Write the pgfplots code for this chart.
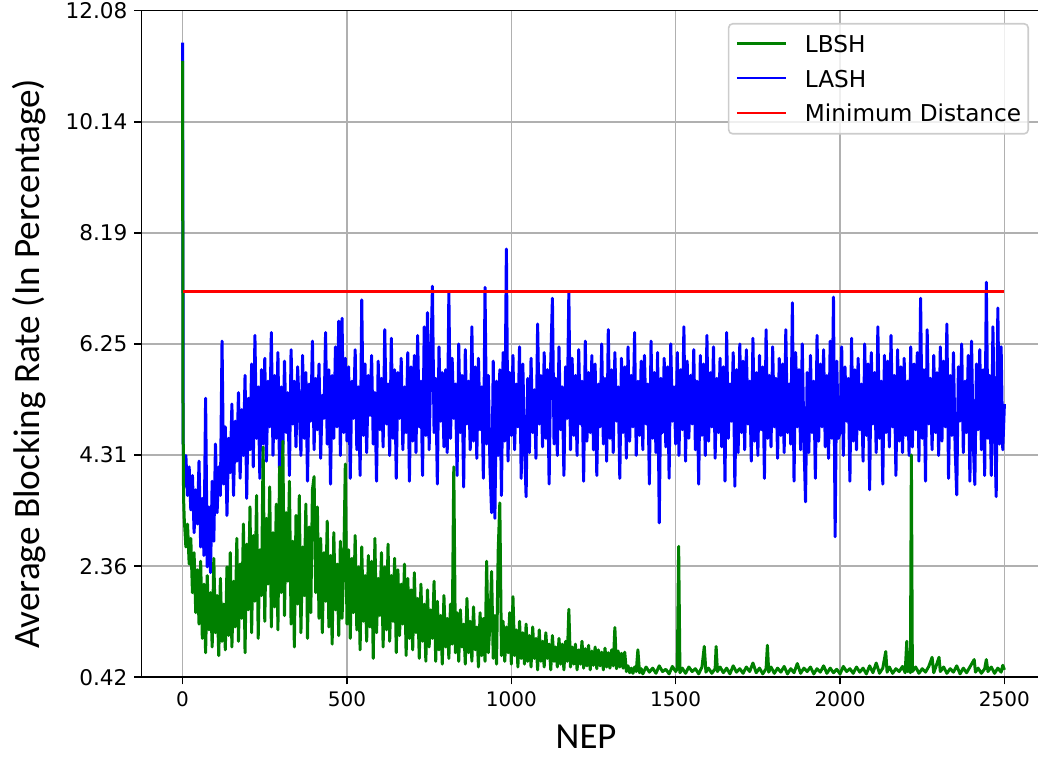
\documentclass[border=0pt]{standalone}
\usepackage{fontspec}
\setmainfont{DejaVu Sans}
\newfontfamily\carlito{Carlito}
\usepackage{pgfplots}
\pgfplotsset{compat=1.18}
\definecolor{mplgreen}{HTML}{008000}
\definecolor{mplblue}{HTML}{0000FF}
\definecolor{mplred}{HTML}{FF0000}
\definecolor{gridgray}{HTML}{B0B0B0}
\begin{document}
\begin{tikzpicture}
\begin{axis}[
  at={(0,0)}, anchor=south west,
  scale only axis, width=452pt, height=333.3pt,
  xmin=-125, xmax=2625, ymin=0.42, ymax=12.08,
  xtick={0,500,1000,1500,2000,2500},
  xticklabels={0,500,1000,1500,2000,2500},
  ytick={0.42,2.363,4.307,6.25,8.193,10.137,12.08},
  yticklabels={0.42,2.36,4.31,6.25,8.19,10.14,12.08},
  tick pos=left, tick align=outside, major tick length=3.5pt,
  tick style={black, line width=0.8pt},
  grid=major, major grid style={gridgray, line width=0.8pt},
  axis line style={black, line width=0.8pt},
  /pgf/number format/assume math mode=true,
  xticklabel style={font=\fontsize{10}{12}\selectfont},
  yticklabel style={font=\fontsize{10.8}{13}\selectfont},
  xlabel={NEP},
  ylabel={Average Blocking Rate (In Percentage)},
  xlabel style={font=\carlito\fontsize{18.4}{22}\selectfont, at={(axis description cs:0.4918,-0.0895)}, anchor=center},
  ylabel style={font=\carlito\fontsize{18.6}{23}\selectfont, at={(axis description cs:-0.124,0.470)}, anchor=center},
  legend cell align=left,
  legend image code/.code={\draw[#1, line width=1.1pt] (0pt,0.3pt) -- (24.5pt,0.3pt);},
  legend style={at={(axis description cs:1,1)}, anchor=north east, xshift=-8.25pt, yshift=-6.15pt,
    draw=black!20, line width=0.8pt, rounded corners=2pt, fill=white, fill opacity=0.8, text opacity=1,
    font=\fontsize{11.6}{14}\selectfont, inner xsep=3.5pt, inner ysep=5.9pt,
    row sep=8.85pt, column sep=9pt,
    nodes={inner sep=0pt, text height=8.5pt, text depth=0pt}},
]
\addlegendimage{draw=mplgreen}\addlegendentry{LBSH}
\addlegendimage{draw=mplblue}\addlegendentry{LASH}
\addlegendimage{draw=mplred}\addlegendentry{Minimum Distance}

% LASH
\addplot[color=mplblue, line width=1.5pt, line join=round, forget plot] coordinates {
(0,11.52)(2,4.50)(5,3.75)(10,4.30)(15,3.60)(20,4.10)(25,3.35)(30,3.95)(35,2.95)(40,3.70)(45,3.10)
(50,4.20)(55,2.70)(60,3.55)(65,2.55)(70,5.30)(75,2.35)(80,3.40)(85,2.25)(90,3.85)(95,2.80)
(100,4.50)(105,3.30)(110,4.10)(115,3.60)(120,6.30)(125,3.80)(130,4.80)(135,3.25)(140,4.60)(145,4.00)
(150,5.20)(155,3.60)(160,4.90)(165,4.20)(170,5.40)(175,3.90)(180,5.10)(185,4.30)(190,5.70)(195,3.55)
(200,5.30)(205,4.40)(210,5.90)(215,4.10)(220,6.40)(225,4.60)(230,5.50)(235,3.90)(240,5.80)(245,4.50)
(250,6.00)(255,4.20)(260,5.60)(265,4.80)(270,6.45)(275,4.30)(280,5.70)(285,4.60)(290,6.10)(295,4.00)
(300,5.50)(305,4.35)(310,5.95)(315,4.70)(320,5.40)(325,3.95)(330,6.15)(335,4.85)(340,5.60)(345,4.45)
(350,5.85)(355,5.10)(360,4.30)(365,6.05)(370,4.60)(375,5.75)(380,3.85)(385,5.55)(390,4.90)(395,6.30)
(400,4.40)(405,5.65)(410,4.75)(415,5.90)(420,4.25)(425,5.35)(430,4.95)(435,6.45)(440,4.50)(445,5.80)
(450,3.80)(455,5.70)(460,4.60)(465,6.20)(470,4.80)(475,6.65)(480,4.30)(485,6.70)(490,4.70)(495,6.00)
(500,4.55)(505,5.85)(510,3.90)(515,5.60)(520,4.95)(525,6.15)(530,4.40)(535,5.50)(540,3.95)(545,7.02)
(550,4.65)(555,5.90)(560,4.35)(565,5.70)(570,5.00)(575,6.05)(580,4.50)(585,5.40)(590,3.85)(595,5.95)
(600,4.75)(605,5.65)(610,4.45)(615,6.50)(620,4.85)(625,5.55)(630,4.30)(635,6.35)(640,4.60)(645,5.80)
(650,3.90)(655,5.75)(660,4.95)(665,6.00)(670,4.40)(675,5.50)(680,4.70)(685,6.10)(690,3.85)(695,5.85)
(700,4.55)(705,6.05)(710,4.35)(715,6.40)(720,4.80)(725,5.60)(730,3.95)(735,6.55)(740,4.65)(745,6.80)
(750,4.40)(755,5.90)(760,7.26)(765,4.70)(770,5.65)(775,3.80)(780,6.20)(785,4.90)(790,5.75)(795,4.45)
(800,5.80)(805,4.35)(810,7.14)(815,4.60)(820,6.00)(825,4.95)(830,5.55)(835,3.95)(840,6.25)(845,4.70)
(850,5.70)(855,3.75)(860,6.15)(865,4.85)(870,5.60)(875,4.40)(880,6.55)(885,4.55)(890,5.85)(895,4.25)
(900,6.00)(905,4.75)(910,5.50)(915,3.90)(920,7.24)(925,4.50)(930,5.70)(935,4.10)(940,3.30)(945,5.95)
(950,3.20)(955,5.60)(960,4.30)(965,5.80)(970,3.60)(975,6.10)(980,4.55)(985,7.91)(990,4.20)(995,5.75)
(1000,4.65)(1005,6.05)(1010,4.40)(1015,5.55)(1020,4.80)(1025,6.20)(1030,3.90)(1035,5.90)(1040,4.50)(1045,3.58)
(1050,5.65)(1055,4.35)(1060,6.00)(1065,4.70)(1070,5.45)(1075,4.25)(1080,6.60)(1085,4.85)(1090,5.70)(1095,4.45)
(1100,6.10)(1105,4.60)(1110,5.80)(1115,3.80)(1120,5.95)(1125,7.05)(1130,4.50)(1135,5.65)(1140,4.30)(1145,6.20)
(1150,4.75)(1155,5.50)(1160,3.95)(1165,5.85)(1170,4.95)(1175,7.16)(1180,4.40)(1185,6.00)(1190,4.65)(1195,5.70)
(1200,4.30)(1205,6.15)(1210,4.85)(1215,5.60)(1220,3.85)(1225,6.30)(1230,4.55)(1235,5.75)(1240,4.70)(1245,6.05)
(1250,4.40)(1255,5.90)(1260,3.95)(1265,5.55)(1270,4.80)(1275,6.25)(1280,4.50)(1285,5.65)(1290,4.20)(1295,6.50)
(1300,4.60)(1305,5.80)(1310,4.35)(1315,6.10)(1320,4.90)(1325,5.50)(1330,3.90)(1335,6.00)(1340,4.70)(1345,5.85)
(1350,4.25)(1355,6.20)(1360,4.55)(1365,5.70)(1370,4.80)(1375,6.45)(1380,4.30)(1385,5.60)(1390,4.65)(1395,5.95)
(1400,4.40)(1405,6.05)(1410,4.85)(1415,5.55)(1420,3.80)(1425,6.30)(1430,4.60)(1435,5.75)(1440,4.35)(1445,6.10)
(1450,3.12)(1455,5.65)(1460,4.70)(1465,6.00)(1470,4.45)(1475,5.85)(1480,3.90)(1485,6.25)(1490,4.90)(1495,5.50)
(1500,4.50)(1505,6.10)(1510,4.30)(1515,5.80)(1520,4.75)(1525,6.55)(1530,4.20)(1535,5.95)(1540,4.60)(1545,5.70)
(1550,4.85)(1555,6.15)(1560,4.40)(1565,5.60)(1570,3.80)(1575,6.05)(1580,4.65)(1585,5.90)(1590,4.30)(1595,6.40)
(1600,4.55)(1605,5.75)(1610,4.80)(1615,6.20)(1620,4.25)(1625,5.65)(1630,4.70)(1635,6.00)(1640,4.45)(1645,5.85)
(1650,3.85)(1655,6.45)(1660,4.60)(1665,5.55)(1670,4.90)(1675,6.10)(1680,3.76)(1685,5.80)(1690,4.35)(1695,6.25)
(1700,4.70)(1705,5.95)(1710,4.40)(1715,6.15)(1720,4.85)(1725,5.60)(1730,4.20)(1735,6.35)(1740,4.55)(1745,5.75)
(1750,4.30)(1755,6.05)(1760,4.75)(1765,5.85)(1770,3.90)(1775,6.50)(1780,4.60)(1785,5.70)(1790,4.45)(1795,6.20)
(1800,4.80)(1805,5.65)(1810,4.25)(1815,6.00)(1820,4.65)(1825,5.90)(1830,4.35)(1835,6.50)(1840,4.70)(1845,5.55)
(1850,4.50)(1855,6.97)(1860,3.85)(1865,6.10)(1870,4.80)(1875,5.80)(1880,4.40)(1885,6.25)(1890,4.60)(1895,3.49)
(1900,5.75)(1905,4.35)(1910,6.05)(1915,4.70)(1920,5.60)(1925,3.90)(1930,6.40)(1935,4.55)(1940,5.90)(1945,4.80)
(1950,6.15)(1955,4.45)(1960,5.70)(1965,4.25)(1970,6.30)(1975,4.60)(1980,7.07)(1985,2.88)(1990,5.95)(1995,4.60)
(2000,4.70)(2005,6.20)(2010,4.30)(2015,5.85)(2020,4.90)(2025,5.65)(2030,3.85)(2035,6.35)(2040,4.55)(2045,5.80)
(2050,4.40)(2055,6.00)(2060,4.75)(2065,5.55)(2070,4.20)(2075,6.25)(2080,4.65)(2085,5.90)(2090,3.70)(2095,6.10)
(2100,4.85)(2105,5.75)(2110,4.35)(2115,6.55)(2120,4.60)(2125,5.60)(2130,3.80)(2135,6.05)(2140,4.70)(2145,5.95)
(2150,4.45)(2155,6.40)(2160,4.80)(2165,5.70)(2170,3.95)(2175,6.15)(2180,4.55)(2185,5.85)(2190,4.35)(2195,6.00)
(2200,4.65)(2205,5.60)(2210,4.30)(2215,6.20)(2220,4.45)(2225,5.90)(2230,4.75)(2235,6.10)(2240,4.20)(2245,7.05)
(2250,4.60)(2255,5.80)(2260,3.85)(2265,6.50)(2270,4.85)(2275,5.65)(2280,4.40)(2285,6.05)(2290,4.70)(2295,5.75)
(2300,4.30)(2305,6.20)(2310,4.55)(2315,5.95)(2320,4.80)(2325,6.60)(2330,3.90)(2335,5.70)(2340,4.65)(2345,6.10)
(2350,4.45)(2355,3.61)(2360,5.85)(2365,4.90)(2370,6.25)(2375,4.35)(2380,5.60)(2385,4.70)(2390,6.05)(2395,3.85)
(2400,6.30)(2405,4.55)(2410,3.79)(2415,5.90)(2420,4.75)(2425,6.15)(2430,4.40)(2435,5.80)(2440,3.95)(2445,7.33)
(2450,4.60)(2455,5.70)(2460,3.95)(2465,6.55)(2470,4.85)(2475,3.58)(2480,6.88)(2485,4.50)(2490,6.20)(2495,4.40)(2500,5.20)
};

% LBSH
\addplot[color=mplgreen, line width=1.5pt, line join=round, forget plot] coordinates {
(0,11.20)(1,5.45)(3,3.55)(5,3.20)(10,2.70)(15,3.10)(20,2.40)(25,2.85)(30,1.90)(35,2.60)(40,1.55)(45,2.30)
(50,1.35)(55,2.45)(60,1.10)(65,2.05)(70,0.85)(75,2.20)(80,1.25)(85,1.90)(90,0.95)(95,2.50)
(100,1.20)(105,1.85)(110,0.80)(115,2.15)(120,1.05)(125,1.70)(130,0.90)(135,2.35)(140,1.15)(145,2.60)
(150,0.95)(155,2.10)(160,1.30)(165,2.85)(170,1.05)(175,2.40)(180,1.45)(185,3.10)(190,0.85)(195,2.75)
(200,1.60)(205,3.40)(210,1.20)(215,2.90)(220,1.75)(225,3.60)(230,1.10)(235,2.65)(240,1.85)(245,4.45)
(250,1.40)(255,3.20)(260,2.05)(265,3.75)(270,1.30)(275,2.95)(280,1.65)(285,3.45)(290,1.25)(295,4.10)
(300,1.90)(305,4.55)(310,1.50)(315,3.30)(320,2.10)(325,3.85)(330,1.35)(335,2.80)(340,0.95)(345,3.25)
(350,1.70)(355,3.60)(360,1.20)(365,2.70)(370,1.85)(375,3.45)(380,1.10)(385,3.05)(390,1.55)(395,3.70)
(400,3.93)(405,1.90)(410,3.40)(415,1.45)(420,2.85)(425,1.20)(430,2.60)(435,1.75)(440,3.15)(445,1.30)
(450,2.55)(455,1.00)(460,2.95)(465,1.60)(470,2.40)(475,1.15)(480,2.80)(485,1.45)(490,2.30)(495,4.15)
(500,1.35)(505,2.65)(510,1.10)(515,2.50)(520,1.55)(525,2.90)(530,1.25)(535,2.35)(540,0.90)(545,2.70)
(550,1.40)(555,2.20)(560,1.05)(565,2.55)(570,1.30)(575,2.45)(580,0.75)(585,2.85)(590,1.20)(595,2.15)
(600,1.50)(605,2.60)(610,0.95)(615,2.35)(620,1.25)(625,2.75)(630,1.05)(635,2.20)(640,1.40)(645,2.50)
(650,0.85)(655,2.30)(660,1.15)(665,2.05)(670,1.35)(675,2.40)(680,0.80)(685,2.15)(690,1.10)(695,1.95)
(700,0.90)(705,2.25)(710,1.20)(715,1.80)(720,0.75)(725,2.05)(730,1.05)(735,1.70)(740,0.70)(745,1.95)
(750,0.95)(755,1.60)(760,1.10)(765,2.10)(770,0.70)(775,1.75)(780,0.90)(785,1.50)(790,0.65)(795,1.85)
(800,0.95)(805,1.45)(810,0.75)(815,1.70)(820,1.00)(825,4.10)(830,0.85)(835,1.55)(840,0.70)(845,1.60)
(850,0.95)(855,1.35)(860,0.65)(865,1.80)(870,0.85)(875,1.40)(880,0.70)(885,1.65)(890,0.90)(895,1.30)
(900,0.60)(905,1.55)(910,0.80)(915,1.45)(920,0.70)(925,2.45)(930,0.85)(935,1.35)(940,2.27)(945,0.75)
(950,1.50)(955,0.65)(960,2.62)(965,3.47)(970,0.80)(975,1.40)(980,0.70)(985,1.30)(990,0.85)(995,1.55)
(1000,0.65)(1005,1.83)(1010,0.80)(1015,1.25)(1020,0.60)(1025,1.40)(1030,0.75)(1035,1.20)(1040,0.65)(1045,1.35)
(1050,0.70)(1055,1.15)(1060,0.60)(1065,1.30)(1070,0.75)(1075,1.10)(1080,0.55)(1085,1.25)(1090,0.70)(1095,1.05)
(1100,0.60)(1105,1.20)(1110,0.75)(1115,1.00)(1120,0.55)(1125,1.15)(1130,0.70)(1135,0.95)(1140,0.60)(1145,1.10)
(1150,0.65)(1155,1.00)(1160,0.55)(1165,1.05)(1170,0.70)(1175,1.61)(1180,0.60)(1185,0.95)(1190,0.65)(1195,1.00)
(1200,0.55)(1205,0.90)(1210,0.65)(1215,1.05)(1220,0.58)(1225,0.92)(1230,0.62)(1235,0.98)(1240,0.55)(1245,0.88)
(1250,0.63)(1255,0.95)(1260,0.57)(1265,0.90)(1270,0.62)(1275,0.86)(1280,0.55)(1285,0.93)(1290,0.60)(1295,0.85)
(1300,0.58)(1305,0.90)(1310,0.62)(1315,1.29)(1320,0.57)(1325,0.88)(1330,0.60)(1335,0.84)(1340,0.58)(1345,0.86)
(1350,0.52)(1355,0.62)(1360,0.50)(1365,0.58)(1370,0.49)(1375,0.60)(1380,0.52)(1385,0.90)(1390,0.50)(1395,0.57)
(1400,0.48)(1410,0.60)(1420,0.51)(1430,0.58)(1440,0.49)(1450,0.62)(1460,0.52)(1470,0.56)(1480,0.48)(1490,0.61)
(1500,0.52)(1505,0.57)(1509,2.71)(1513,0.50)(1520,0.58)(1530,0.49)(1540,0.60)(1550,0.52)(1560,0.57)(1570,0.48)(1580,0.60)
(1587,0.96)(1592,0.51)(1600,0.58)(1610,0.49)(1620,0.57)(1623,0.96)(1627,0.52)(1635,0.60)(1645,0.50)(1655,0.58)
(1665,0.48)(1675,0.62)(1685,0.51)(1695,0.57)(1705,0.49)(1715,0.60)(1725,0.52)(1735,0.67)(1745,0.50)(1755,0.58)
(1765,0.48)(1775,0.57)(1779,0.98)(1783,0.51)(1790,0.60)(1800,0.49)(1810,0.58)(1820,0.51)(1830,0.61)(1840,0.48)
(1850,0.57)(1860,0.50)(1870,0.66)(1880,0.49)(1890,0.58)(1900,0.52)(1910,0.60)(1920,0.48)(1930,0.57)(1940,0.51)
(1950,0.62)(1960,0.49)(1970,0.58)(1980,0.50)(1990,0.56)(2000,0.48)(2010,0.61)(2020,0.52)(2030,0.57)(2040,0.49)
(2050,0.60)(2060,0.51)(2070,0.58)(2080,0.48)(2090,0.62)(2100,0.50)(2110,0.67)(2120,0.49)(2130,0.58)(2139,0.87)
(2143,0.51)(2150,0.60)(2160,0.49)(2170,0.57)(2180,0.52)(2190,0.61)(2198,0.50)(2203,1.05)(2206,0.52)(2210,0.58)
(2214,0.50)(2217,4.31)(2220,0.52)(2230,0.60)(2240,0.49)(2250,0.57)(2260,0.51)(2270,0.61)(2280,0.77)(2285,0.50)
(2290,0.58)(2301,0.77)(2305,0.52)(2315,0.60)(2325,0.49)(2335,0.57)(2345,0.51)(2355,0.62)(2365,0.48)(2375,0.58)
(2385,0.50)(2395,0.60)(2408,0.73)(2412,0.51)(2420,0.58)(2430,0.49)(2440,0.57)(2445,0.73)(2450,0.52)(2460,0.60)
(2470,0.49)(2480,0.58)(2490,0.51)(2495,0.63)(2500,0.55)
};

% Minimum Distance
\addplot[color=mplred, line width=1.3pt, forget plot] coordinates {(0,7.17)(2500,7.17)};
\end{axis}
\pgfresetboundingbox
\path[use as bounding box] (-70.75pt,-40.35pt) rectangle (448.25pt,338.65pt);
\end{tikzpicture}
\end{document}
